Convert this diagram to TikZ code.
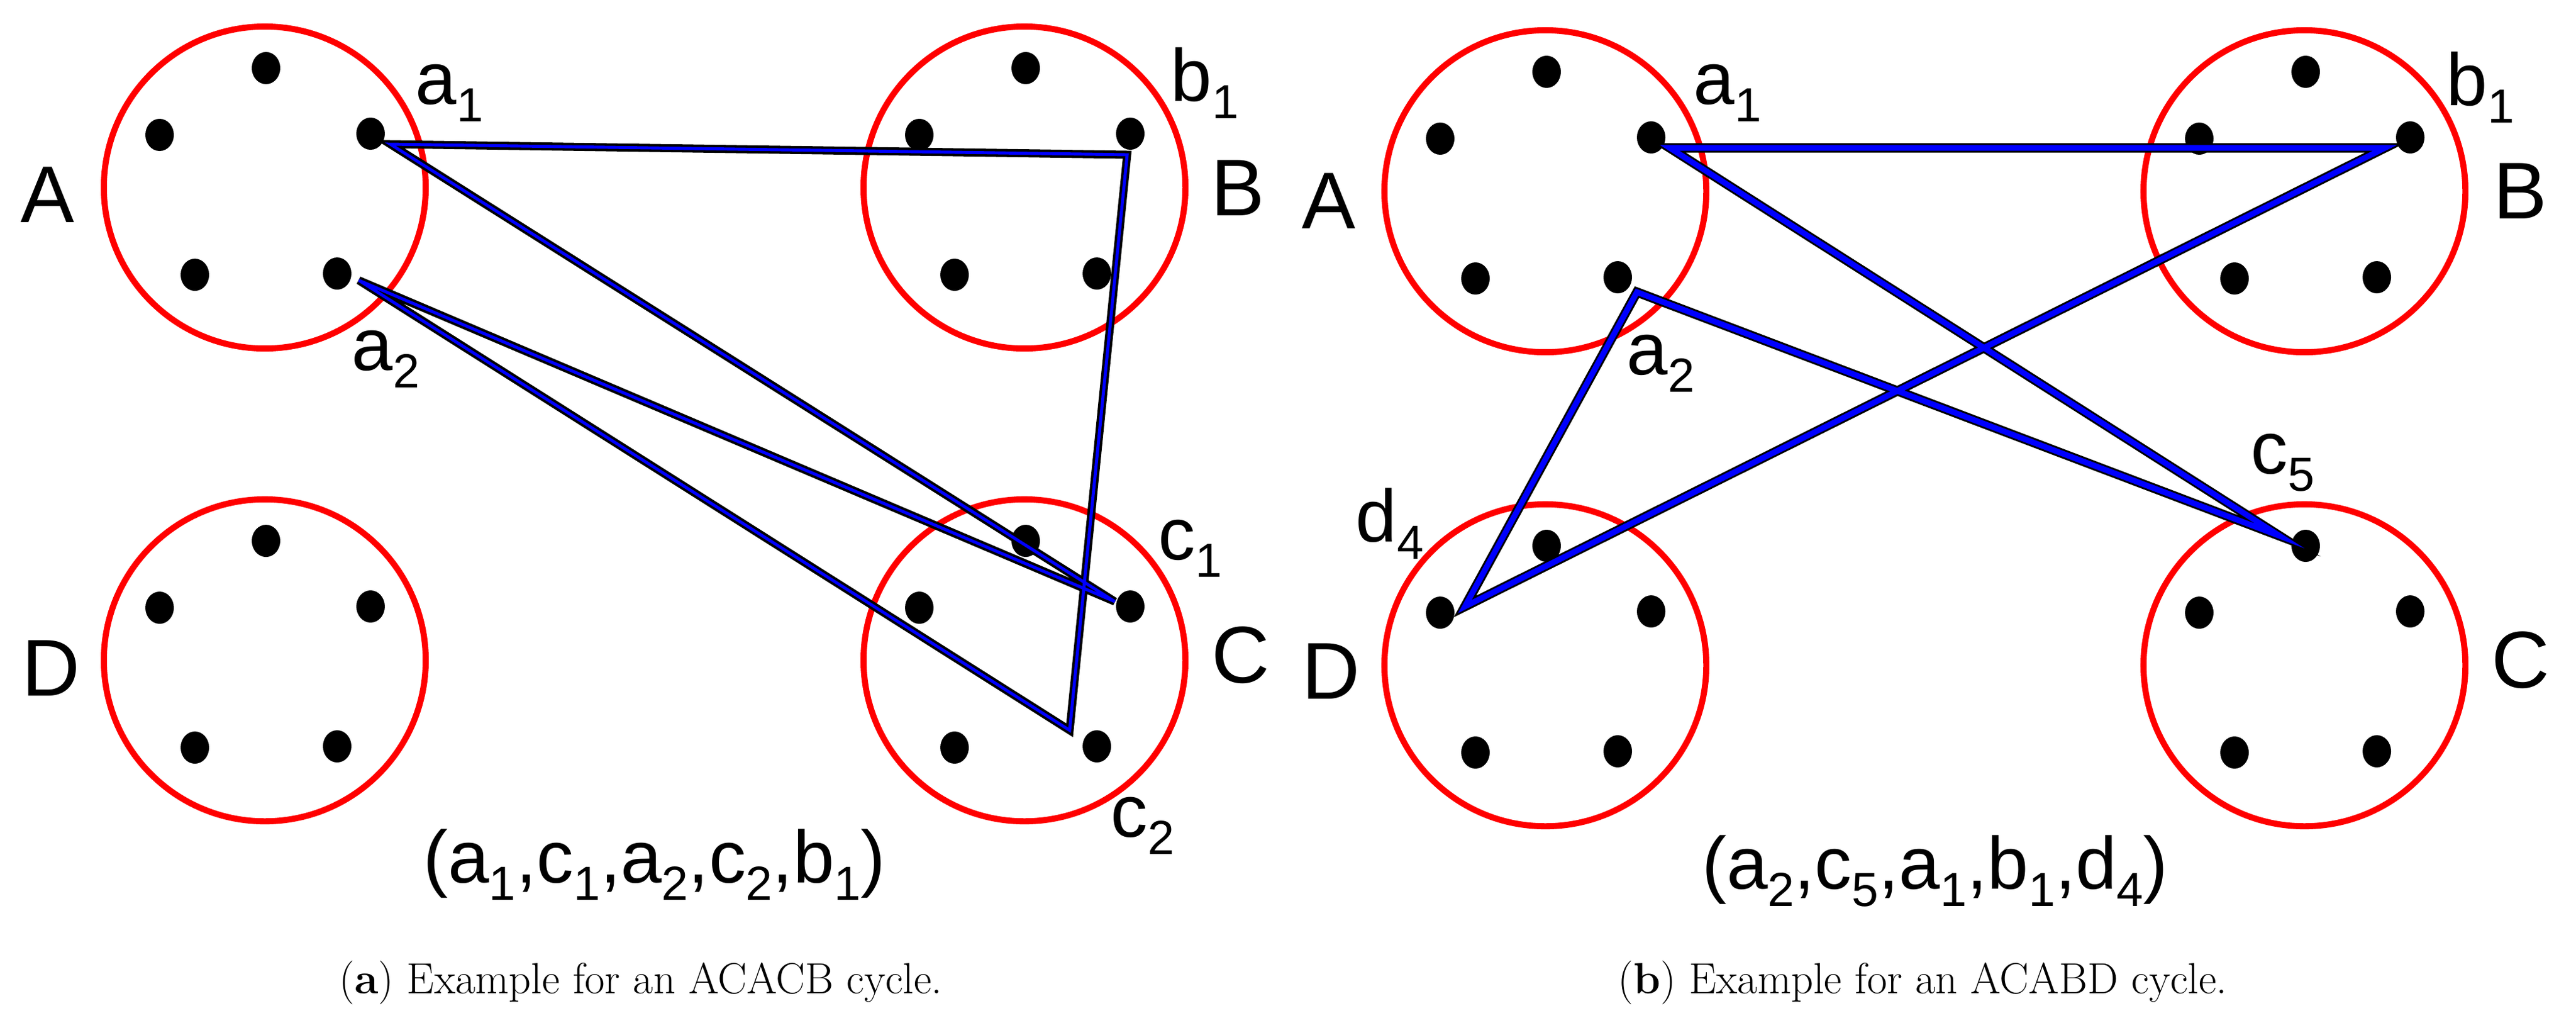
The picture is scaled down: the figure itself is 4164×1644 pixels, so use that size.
\documentclass[tikz,border=0pt]{standalone}
\usepackage{fontspec}
\usetikzlibrary{shapes.geometric}
\newfontfamily\lab{Liberation Sans}
\newcommand{\sbs}[1]{\raisebox{-0.45ex}{\fontsize{22}{22}\selectfont #1}}
\newcommand{\grpdots}[3]{%
 \begin{scope}[shift={(#2,#3)}]
 \node[grp] (#1) at (0,0) {};
 \node[dotn] (#1t) at (2,-193) {};
 \node[dotn] (#1l) at (-170,-85) {};
 \node[dotn] (#1r) at (171,-87) {};
 \node[dotn] (#1bl) at (-113,141) {};
 \node[dotn] (#1br) at (117,139) {};
 \end{scope}}
\begin{document}
\begin{tikzpicture}[x=0.01cm,y=-0.01cm,
  grp/.style={draw=red,line width=2.8pt,circle,minimum size=5.2cm,inner sep=0},
  dotn/.style={fill=black,ellipse,minimum width=0.46cm,minimum height=0.52cm,inner sep=0},
  big/.style={font=\lab\fontsize{37}{37}\selectfont,inner sep=0},
  sml/.style={font=\lab\fontsize{34}{34}\selectfont,anchor=base west,inner sep=0},
  tup/.style={font=\lab\fontsize{34}{34}\selectfont,anchor=base,inner sep=0},
  captxt/.style={font=\fontsize{20}{20}\selectfont,inner sep=0},
  eouta/.style={line width=3.7pt,black,line join=miter},
  eina/.style={line width=1.4pt,blue,line join=miter},
  eoutb/.style={line width=4.3pt,black,line join=miter},
  einb/.style={line width=2.6pt,blue,line join=miter}]
\useasboundingbox (0,0) rectangle (4164,1644);
% ---------- panel (a)
\grpdots{aA}{428}{303}
\grpdots{aB}{1656}{303}
\grpdots{aD}{428}{1067}
\grpdots{aC}{1656}{1067}
\node[big] (laA) at (77,315) {A};
\node[big] (laB) at (2001,304) {B};
\node[big] (laD) at (82,1080) {D};
\node[big] (laC) at (2005,1059) {C};
\node[sml] (la1) at (671,168) {a\sbs{1}};
\node[sml] (lb1) at (1892,163) {b\sbs{1}};
\node[sml] (la2) at (568,598) {a\sbs{2}};
\node[sml] (lc1) at (1872,904) {c\sbs{1}};
\node[sml] (lc2) at (1795,1352) {c\sbs{2}};
\coordinate (pa1) at (631,233);
\coordinate (pc1) at (1802,972);
\coordinate (pa2) at (580,453);
\coordinate (pc2) at (1729,1180);
\coordinate (pb1) at (1822,250);
\draw[eouta] (pa1) -- (pc1) -- (pa2) -- (pc2) -- (pb1) -- cycle;
\draw[eina] (pa1) -- (pc1) -- (pa2) -- (pc2) -- (pb1) -- cycle;
\node[tup] (ta) at (1058,1426) {(a\sbs{1},c\sbs{1},a\sbs{2},c\sbs{2},b\sbs{1})};
\node[captxt] (capa) at (1036,1588) {(\textbf{a}) Example for an ACACB cycle.};
% ---------- panel (b)
\grpdots{bA}{2498}{309}
\grpdots{bB}{3725}{309}
\grpdots{bD}{2498}{1075}
\grpdots{bC}{3725}{1075}
\node[big] (lbA) at (2148,325) {A};
\node[big] (lbB) at (4074,309) {B};
\node[big] (lbD) at (2151,1085) {D};
\node[big] (lbC) at (4074,1067) {C};
\node[sml] (lba1) at (2737,168) {a\sbs{1}};
\node[sml] (lbb1) at (3954,170) {b\sbs{1}};
\node[sml] (lba2) at (2629,605) {a\sbs{2}};
\node[sml] (lbc5) at (3638,765) {c\sbs{5}};
\node[sml] (lbd4) at (2191,875) {d\sbs{4}};
\coordinate (qa2) at (2646,472);
\coordinate (qc5) at (3685,866);
\coordinate (qa1) at (2699,239);
\coordinate (qb1) at (3855,239);
\coordinate (qd4) at (2368,980);
\draw[eoutb] (qa2) -- (qc5) -- (qa1) -- (qb1) -- (qd4) -- cycle;
\draw[einb] (qa2) -- (qc5) -- (qa1) -- (qb1) -- (qd4) -- cycle;
\node[tup] (tb) at (3128,1436) {(a\sbs{2},c\sbs{5},a\sbs{1},b\sbs{1},d\sbs{4})};
\node[captxt] (capb) at (3108,1588) {(\textbf{b}) Example for an ACABD cycle.};
\end{tikzpicture}
\end{document}
